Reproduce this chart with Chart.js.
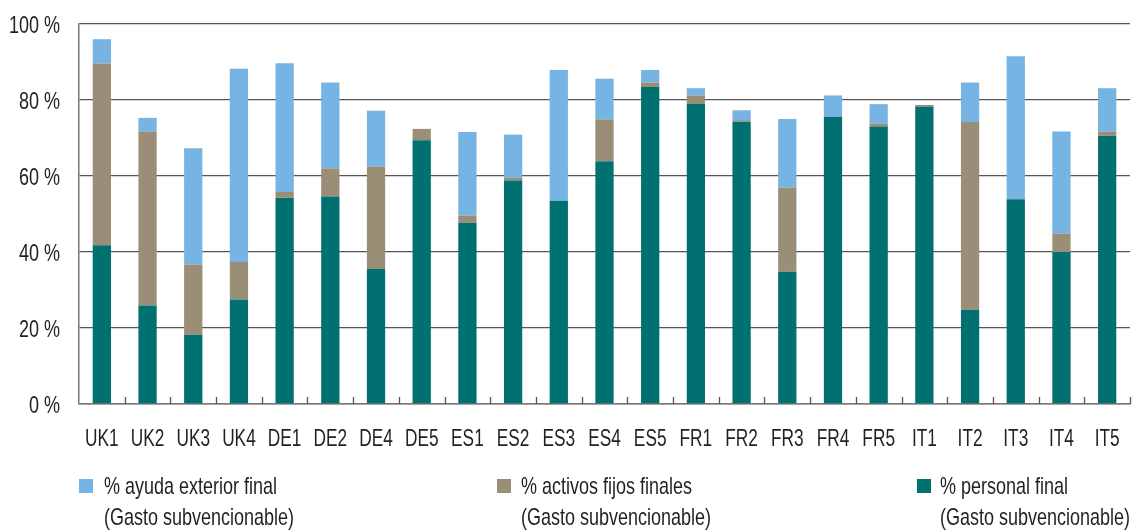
<!DOCTYPE html>
<html>
<head>
<meta charset="utf-8">
<script src="https://cdn.jsdelivr.net/npm/chart.js@4/dist/chart.umd.min.js"></script>
<style>
  body { margin: 0; background: #fff; }
  #wrap { position: relative; width: 1134px; height: 530px; }
  .leg { position: absolute; font: 24px 'Liberation Sans', Arial, sans-serif; color: #231f20; line-height: 30px; white-space: nowrap; transform: scaleX(0.75); transform-origin: left center; }
  .sq { position: absolute; width: 14px; height: 14px; }
</style>
</head>
<body>
<div id="wrap">
  <canvas id="chart" width="1134" height="530"></canvas>
</div>
<script>
const categories = ['UK1','UK2','UK3','UK4','DE1','DE2','DE4','DE5','ES1','ES2','ES3','ES4','ES5','FR1','FR2','FR3','FR4','FR5','IT1','IT2','IT3','IT4','IT5']

// % personal final
const personal = [41.8, 25.9, 18.2, 27.5, 54.3, 54.6, 35.5, 69.4, 47.7, 58.8, 53.5, 63.9, 83.4, 79.0, 74.3, 34.8, 75.6, 73.0, 78.2, 24.8, 53.9, 40.0, 70.6]
// % activos fijos finales
const activos = [47.8, 45.8, 18.5, 9.9, 1.5, 7.4, 27.0, 3.0, 1.9, 0.7, 0, 11.0, 1.2, 2.2, 0.4, 22.1, 0, 0.8, 0.5, 49.4, 0, 4.8, 1.1]
// % ayuda exterior final
const ayuda = [6.4, 3.6, 30.6, 50.8, 33.9, 22.6, 14.7, 0, 22.0, 11.4, 34.4, 10.7, 3.3, 1.9, 2.6, 18.1, 5.6, 5.1, 0, 10.4, 37.6, 26.9, 11.4]

const yTicks = [0, 20, 40, 60, 80, 100]

const colors = {
    personal: '#007170',
    activos: '#9a8e76',
    ayuda: '#76b4e3'
}

const legendItems = [
    { text: '% ayuda exterior final', color: colors.ayuda, x: 79, textX: 104 },
    { text: '% activos fijos finales', color: colors.activos, x: 497, textX: 521 },
    { text: '% personal final', color: colors.personal, x: 917, textX: 940 }
]

const fontFamily = "'Liberation Sans', Arial, sans-serif"
const textColor = '#231f20'

// small ticks between categories, pointing up from the x axis
const innerTicks = {
    id: 'innerTicks',
    afterDatasetsDraw(chart) {
        const x = chart.scales.x
        const ctx = chart.ctx
        const step = (x.right - x.left) / categories.length
        ctx.save()
        ctx.strokeStyle = '#555'
        ctx.lineWidth = 1.3
        for (let i = 1; i <= categories.length; i++) {
            const px = Math.round(x.left + i * step) + 0.5
            ctx.beginPath()
            ctx.moveTo(px, x.top)
            ctx.lineTo(px, x.top - 7)
            ctx.stroke()
        }
        ctx.restore()
    }
}

// tick labels in a condensed look (the original uses a narrow typeface)
const narrowLabels = {
    id: 'narrowLabels',
    afterDraw(chart) {
        const ctx = chart.ctx
        const x = chart.scales.x
        const y = chart.scales.y
        ctx.save()
        ctx.fillStyle = textColor
        ctx.font = '24px ' + fontFamily
        ctx.textBaseline = 'alphabetic'

        ctx.textAlign = 'center'
        x.ticks.forEach((t, i) => {
            ctx.save()
            ctx.translate(x.getPixelForTick(i), x.top + 42)
            ctx.scale(0.72, 1)
            ctx.fillText(categories[t.value], 0, 0)
            ctx.restore()
        })

        ctx.textAlign = 'right'
        y.ticks.forEach((t, i) => {
            ctx.save()
            ctx.translate(y.right - 19, y.getPixelForTick(i) + 8.5)
            ctx.scale(0.75, 1)
            ctx.fillText(t.value + ' %', 0, 0)
            ctx.restore()
        })
        ctx.restore()
    }
}

const chart = new Chart(document.getElementById('chart'), {
    type: 'bar',
    data: {
        labels: categories,
        datasets: [
            { label: '% personal final', data: personal, backgroundColor: colors.personal },
            { label: '% activos fijos finales', data: activos, backgroundColor: colors.activos },
            { label: '% ayuda exterior final', data: ayuda, backgroundColor: colors.ayuda }
        ]
    },
    options: {
        responsive: false,
        animation: false,
        layout: { padding: { top: 24, right: 4, bottom: 76, left: 0 } },
        datasets: { bar: { barPercentage: 1, categoryPercentage: 0.4, borderWidth: 0 } },
        plugins: {
            legend: { display: false },
            tooltip: { enabled: false }
        },
        scales: {
            x: {
                stacked: true,
                grid: { display: false },
                border: { display: true, color: '#777', width: 1.5 },
                ticks: { display: false, autoSkip: false },
                afterFit: s => { s.height = 50 }
            },
            y: {
                stacked: true,
                min: 0,
                max: 100,
                afterBuildTicks: s => { s.ticks = yTicks.map(v => ({ value: v })) },
                grid: { color: '#555', lineWidth: 1.3, drawTicks: false },
                border: { display: true, color: '#777', width: 1.5 },
                ticks: { display: false },
                afterFit: s => { s.width = 79 }
            }
        }
    },
    plugins: [innerTicks, narrowLabels]
})

// legend below the chart
const wrap = document.getElementById('wrap')
legendItems.forEach(item => {
    const sq = document.createElement('div')
    sq.className = 'sq'
    sq.style.left = item.x + 'px'
    sq.style.top = '479px'
    sq.style.background = item.color
    wrap.appendChild(sq)

    const l1 = document.createElement('div')
    l1.className = 'leg'
    l1.style.left = item.textX + 'px'
    l1.style.top = '471px'
    l1.textContent = item.text
    wrap.appendChild(l1)

    const l2 = document.createElement('div')
    l2.className = 'leg'
    l2.style.left = item.textX + 'px'
    l2.style.top = '502px'
    l2.textContent = '(Gasto subvencionable)'
    wrap.appendChild(l2)
})
</script>
</body>
</html>
